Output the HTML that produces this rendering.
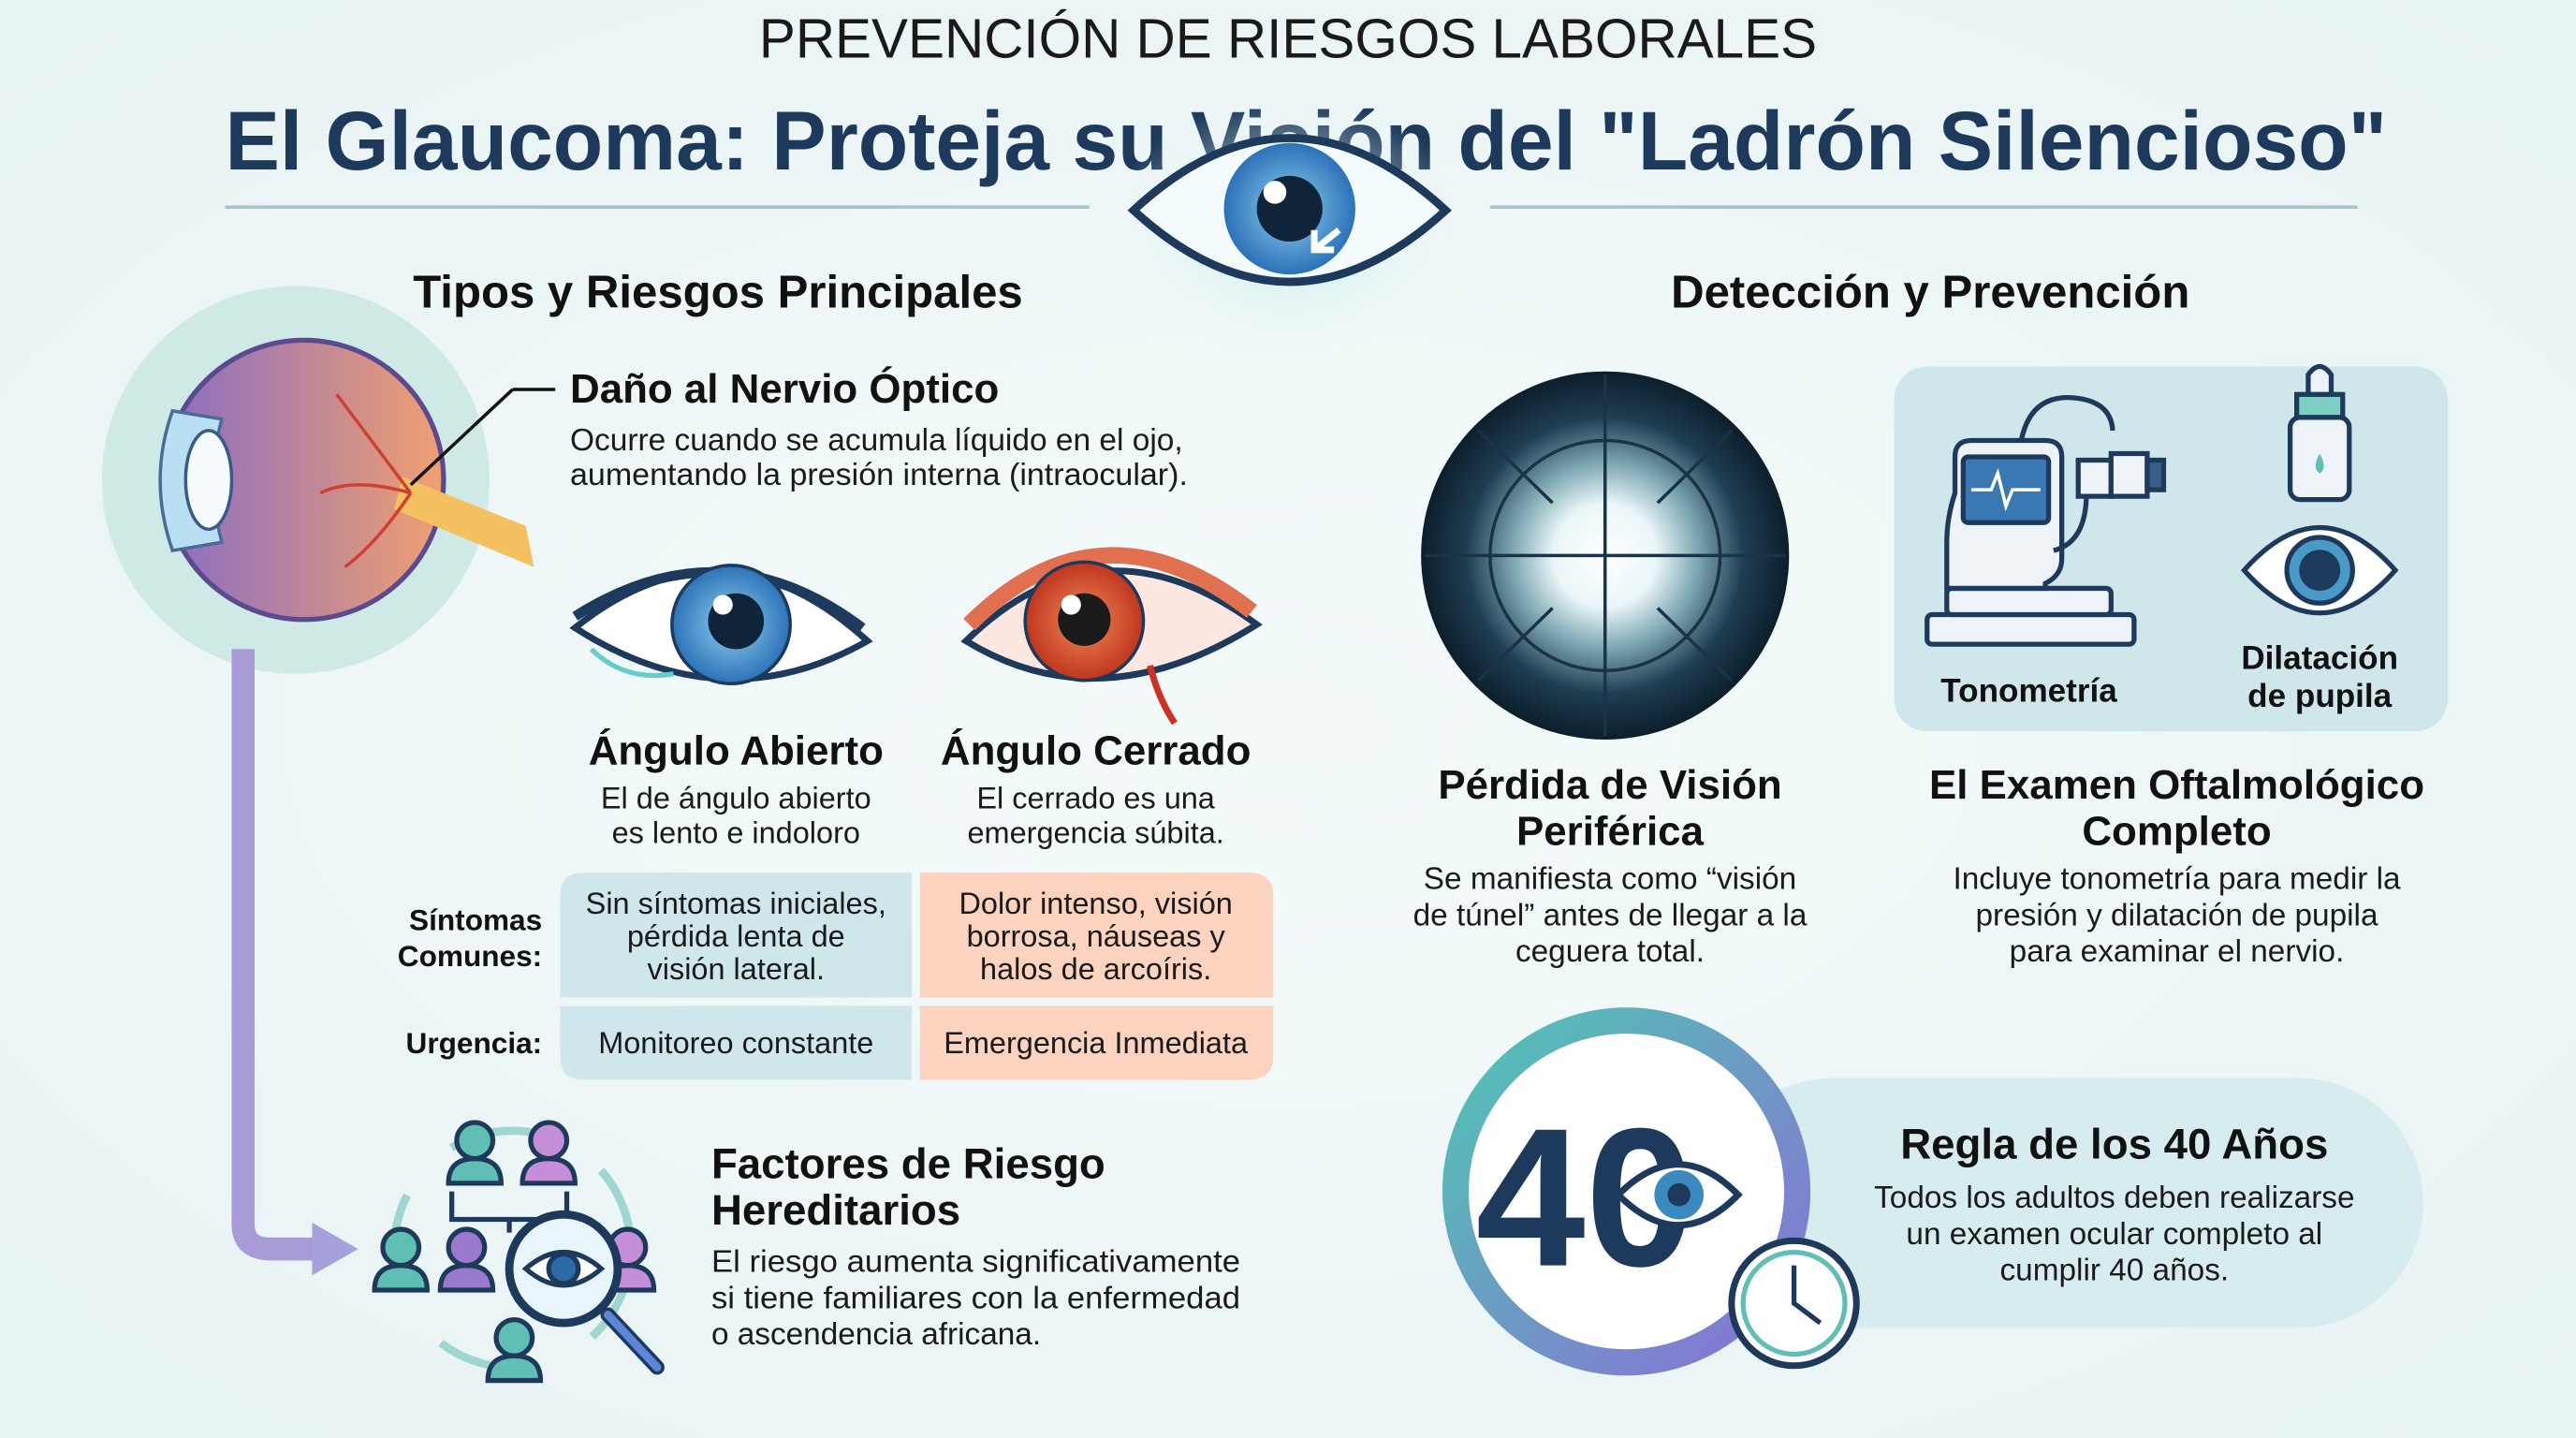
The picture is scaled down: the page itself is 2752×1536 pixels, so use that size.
<!DOCTYPE html>
<html><head><meta charset="utf-8"><style>
html,body{margin:0;padding:0;background:#eef7f7;}
svg{display:block;font-family:"Liberation Sans",sans-serif;}
.b{font-weight:bold;fill:#111;}
.t{fill:#1a1a1a;}
</style></head><body>
<svg width="2752" height="1536" viewBox="0 0 1568 875" preserveAspectRatio="none" xmlns="http://www.w3.org/2000/svg">
<defs>
<radialGradient id="bg" cx="0.5" cy="0.5" r="0.7"><stop offset="0" stop-color="#f4fafa"/><stop offset="1" stop-color="#e8f3f4"/></radialGradient>
<radialGradient id="tun" cx="0.5" cy="0.5" r="0.5"><stop offset="0" stop-color="#ffffff"/><stop offset="0.28" stop-color="#eaf6f8"/><stop offset="0.5" stop-color="#7fa8b4"/><stop offset="0.75" stop-color="#1f3e52"/><stop offset="1" stop-color="#0c1e2c"/></radialGradient>
<linearGradient id="ring" x1="0" y1="0" x2="1" y2="1"><stop offset="0" stop-color="#4fc6b3"/><stop offset="1" stop-color="#8a6fd6"/></linearGradient>
<radialGradient id="glow" cx="0.5" cy="0.5" r="0.5"><stop offset="0" stop-color="#bfeee8"/><stop offset="1" stop-color="#eef7f7" stop-opacity="0"/></radialGradient>
<radialGradient id="iris1" cx="0.5" cy="0.5" r="0.5"><stop offset="0" stop-color="#8fd0f0"/><stop offset="1" stop-color="#2c72b8"/></radialGradient>
<radialGradient id="iris2" cx="0.5" cy="0.5" r="0.5"><stop offset="0" stop-color="#f08a5a"/><stop offset="1" stop-color="#c0351c"/></radialGradient>
<linearGradient id="ball" x1="0" y1="0" x2="1" y2="0"><stop offset="0" stop-color="#8a6cc4"/><stop offset="1" stop-color="#f0a070"/></linearGradient>
</defs>
<rect width="1568" height="875" fill="url(#bg)"/>

<!-- Header -->
<text x="784" y="35" text-anchor="middle" font-size="34" fill="#1a1a1a" textLength="644" lengthAdjust="spacingAndGlyphs">PREVENCIÓN DE RIESGOS LABORALES</text>
<text x="795" y="103" text-anchor="middle" font-size="51" font-weight="bold" fill="#1d3a5c" textLength="1316" lengthAdjust="spacingAndGlyphs">El Glaucoma: Proteja su  Visión del "Ladrón Silencioso"</text>
<line x1="137" y1="126" x2="663" y2="126" stroke="#a9c4c8" stroke-width="2"/>
<line x1="907" y1="126" x2="1435" y2="126" stroke="#a9c4c8" stroke-width="2"/>
<ellipse cx="785" cy="140" rx="110" ry="80" fill="url(#glow)"/>
<path d="M690 128 Q785 40 880 128 Q785 215 690 128Z" fill="#f4fbfc" stroke="#1d3a5c" stroke-width="5"/>
<circle cx="785" cy="127" r="40" fill="url(#iris1)"/>
<circle cx="785" cy="127" r="20" fill="#0f2438"/>
<circle cx="776" cy="117" r="7" fill="#fff"/>
<path d="M815 140 L800 152 M800 140 L800 152 L812 152" stroke="#fff" stroke-width="4" fill="none"/>

<!-- Section titles -->
<text x="437" y="187" text-anchor="middle" font-size="28" class="b">Tipos y Riesgos Principales</text>
<text x="1175" y="187" text-anchor="middle" font-size="28" class="b">Detección y Prevención</text>

<!-- Anatomic eye -->
<circle cx="180" cy="292" r="118" fill="#cfe9e6"/>
<path d="M148 395 L148 745 Q148 760 165 760 L195 760" stroke="#a99ad8" stroke-width="14" fill="none"/>
<path d="M190 744 L218 760 L190 776Z" fill="#a6a0dc"/>
<circle cx="185" cy="292" r="85" fill="url(#ball)" stroke="#5a4a90" stroke-width="3"/>
<path d="M245 290 L320 320 L325 345 L240 310Z" fill="#f4c060"/>
<path d="M105 250 Q90 292 105 335 L135 330 Q125 292 135 255Z" fill="#b9dff2" stroke="#4a6a9a" stroke-width="2"/>
<ellipse cx="127" cy="292" rx="14" ry="30" fill="#f5fbff" stroke="#3a5a88" stroke-width="2"/>
<path d="M250 300 Q220 260 205 240 M250 300 Q215 290 195 300 M250 300 Q230 330 210 345" stroke="#d04030" stroke-width="2" fill="none"/>
<line x1="250" y1="295" x2="312" y2="237" stroke="#111" stroke-width="2"/>
<line x1="312" y1="237" x2="338" y2="237" stroke="#111" stroke-width="2"/>

<text x="347" y="245" font-size="25" class="b">Daño al Nervio Óptico</text>
<text x="347" y="274" font-size="19" class="t" textLength="373" lengthAdjust="spacingAndGlyphs">Ocurre cuando se acumula líquido en el ojo,</text>
<text x="347" y="295" font-size="19" class="t" textLength="376" lengthAdjust="spacingAndGlyphs">aumentando la presión interna (intraocular).</text>

<!-- Eye open angle -->
<path d="M350 382 Q440 310 528 390 Q440 440 350 382Z" fill="#fff" stroke="#1d3a5c" stroke-width="4"/>
<path d="M350 375 Q440 318 525 382" stroke="#1d3a5c" stroke-width="6" fill="none"/>
<circle cx="445" cy="380" r="36" fill="url(#iris1)" stroke="#1d3a5c" stroke-width="2"/>
<circle cx="448" cy="378" r="17" fill="#0f2438"/>
<circle cx="440" cy="368" r="6" fill="#fff"/>
<path d="M360 395 Q380 415 410 410" stroke="#6cc" stroke-width="3" fill="none"/>
<!-- Eye closed angle -->
<path d="M588 390 Q670 310 765 380 Q670 440 588 390Z" fill="#fce8e0" stroke="#1d3a5c" stroke-width="4"/>
<path d="M590 380 Q670 300 762 372" stroke="#e07050" stroke-width="10" fill="none"/>
<circle cx="660" cy="378" r="36" fill="url(#iris2)" stroke="#1d3a5c" stroke-width="2"/>
<circle cx="660" cy="377" r="16" fill="#1a1a1a"/>
<circle cx="652" cy="368" r="6" fill="#fff"/>
<path d="M700 405 Q705 425 715 440" stroke="#d03020" stroke-width="4" fill="none"/>

<text x="448" y="465" text-anchor="middle" font-size="25" class="b">Ángulo Abierto</text>
<text x="448" y="492" text-anchor="middle" font-size="18.5" class="t">El de ángulo abierto</text>
<text x="448" y="513" text-anchor="middle" font-size="18.5" class="t">es lento e indoloro</text>
<text x="667" y="465" text-anchor="middle" font-size="25" class="b">Ángulo Cerrado</text>
<text x="667" y="492" text-anchor="middle" font-size="18.5" class="t">El cerrado es una</text>
<text x="667" y="513" text-anchor="middle" font-size="18.5" class="t">emergencia súbita.</text>

<!-- Table -->
<text x="330" y="566" text-anchor="end" font-size="18" class="b">Síntomas</text>
<text x="330" y="588" text-anchor="end" font-size="18" class="b">Comunes:</text>
<text x="330" y="641" text-anchor="end" font-size="18" class="b">Urgencia:</text>
<path d="M355 531 H555 V607 H341 V545 Q341 531 355 531Z" fill="#cfe7ea"/>
<path d="M560 531 H760 Q775 531 775 545 V607 H560Z" fill="#fbd3bf"/>
<path d="M341 612 H555 V657 H355 Q341 657 341 643Z" fill="#cfe7ea"/>
<path d="M560 612 H775 V643 Q775 657 760 657 H560Z" fill="#fbd3bf"/>
<g font-size="18.5" class="t" text-anchor="middle">
<text x="448" y="556">Sin síntomas iniciales,</text>
<text x="448" y="576">pérdida lenta de</text>
<text x="448" y="596">visión lateral.</text>
<text x="667" y="556">Dolor intenso, visión</text>
<text x="667" y="576">borrosa, náuseas y</text>
<text x="667" y="596">halos de arcoíris.</text>
<text x="448" y="641">Monitoreo constante</text>
<text x="667" y="641">Emergencia Inmediata</text>
</g>

<!-- Family icon -->
<circle cx="312" cy="760" r="72" fill="none" stroke="#9fd6cf" stroke-width="5" stroke-dasharray="60 40"/>
<g stroke="#1d3a5c" stroke-width="3">
<path d="M310 750 V742 H275 V725 M310 742 H345 V725" fill="none"/>
<circle cx="289" cy="694" r="11" fill="#5fbfb4"/><path d="M273 720 Q273 705 289 705 Q305 705 305 720Z" fill="#5fbfb4"/>
<circle cx="334" cy="694" r="11" fill="#c48ed8"/><path d="M318 720 Q318 705 334 705 Q350 705 350 720Z" fill="#c48ed8"/>
<circle cx="244" cy="759" r="11" fill="#5fbfb4"/><path d="M228 785 Q228 770 244 770 Q260 770 260 785Z" fill="#5fbfb4"/>
<circle cx="284" cy="759" r="11" fill="#9a78cc"/><path d="M268 785 Q268 770 284 770 Q300 770 300 785Z" fill="#9a78cc"/>
<circle cx="382" cy="759" r="11" fill="#c48ed8"/><path d="M366 785 Q366 770 382 770 Q398 770 398 785Z" fill="#c48ed8"/>
<circle cx="313" cy="814" r="11" fill="#5fbfb4"/><path d="M297 840 Q297 825 313 825 Q329 825 329 840Z" fill="#5fbfb4"/>
<line x1="370" y1="800" x2="400" y2="832" stroke-width="9" stroke-linecap="round"/>
<line x1="370" y1="800" x2="400" y2="832" stroke="#5c86d8" stroke-width="5" stroke-linecap="round"/>
<circle cx="343" cy="772" r="33" fill="#e8f5fa" stroke-width="5"/>
<path d="M320 772 Q343 752 366 772 Q343 792 320 772Z" fill="#fff"/>
<circle cx="343" cy="772" r="9" fill="#2c6aa8"/>
</g>
<text x="433" y="717" font-size="26" class="b">Factores de Riesgo</text>
<text x="433" y="745" font-size="26" class="b">Hereditarios</text>
<text x="433" y="774" font-size="19" class="t" textLength="322" lengthAdjust="spacingAndGlyphs">El riesgo aumenta significativamente</text>
<text x="433" y="796" font-size="19" class="t" textLength="322" lengthAdjust="spacingAndGlyphs">si tiene familiares con la enfermedad</text>
<text x="433" y="818" font-size="19" class="t">o ascendencia africana.</text>

<!-- Tunnel vision -->
<circle cx="977" cy="338" r="112" fill="url(#tun)"/>
<g stroke="#1a3346" stroke-width="2" fill="none">
<circle cx="977" cy="338" r="70"/>
<line x1="977" y1="228" x2="977" y2="448"/><line x1="867" y1="338" x2="1087" y2="338"/>
<line x1="900" y1="262" x2="945" y2="306"/><line x1="1054" y1="262" x2="1009" y2="306"/>
<line x1="900" y1="414" x2="945" y2="370"/><line x1="1054" y1="414" x2="1009" y2="370"/>
</g>
<text x="980" y="486" text-anchor="middle" font-size="25" class="b">Pérdida de Visión</text>
<text x="980" y="514" text-anchor="middle" font-size="25" class="b">Periférica</text>
<text x="980" y="541" text-anchor="middle" font-size="19" class="t">Se manifiesta como “visión</text>
<text x="980" y="563" text-anchor="middle" font-size="19" class="t">de túnel” antes de llegar a la</text>
<text x="980" y="585" text-anchor="middle" font-size="19" class="t">ceguera total.</text>

<!-- Panel -->
<rect x="1153" y="223" width="337" height="222" rx="20" fill="#cfe6ea"/>
<g stroke="#1d3a5c" stroke-width="3">
<path d="M1230 270 Q1235 240 1262 242 Q1285 244 1286 262" fill="none"/>
<rect x="1173" y="374" width="126" height="18" rx="3" fill="#eef3f8"/>
<rect x="1185" y="358" width="100" height="16" rx="3" fill="#eef3f8"/>
<path d="M1185 358 V330 Q1185 315 1190 300 V278 Q1190 268 1200 268 H1245 Q1255 268 1255 278 V340 Q1255 350 1245 355 V358Z" fill="#eef3f8"/>
<rect x="1195" y="278" width="52" height="40" rx="3" fill="#3a78b4"/>
<path d="M1200 298 H1212 L1216 288 L1221 308 L1225 298 H1242" stroke="#fff" stroke-width="2" fill="none"/>
<path d="M1250 335 Q1270 330 1270 300" fill="none"/>
<rect x="1265" y="280" width="20" height="22" fill="#eef3f8"/>
<rect x="1285" y="276" width="22" height="26" fill="#eef3f8"/>
<rect x="1307" y="280" width="10" height="18" fill="#3a6088"/>
<rect x="1398" y="240" width="28" height="14" fill="#7ecfc4"/>
<path d="M1405 240 V228 Q1412 218 1419 228 V240Z" fill="#eef3f8"/>
<rect x="1394" y="254" width="36" height="50" rx="6" fill="#eef3f8"/>
<path d="M1366 347 Q1412 295 1458 347 Q1412 399 1366 347Z" fill="#fff"/>
<circle cx="1412" cy="347" r="20" fill="#4a9ac8"/>
<circle cx="1412" cy="347" r="11" fill="#1d3a5c"/>
</g>
<path d="M1412 276 Q1407 285 1412 288 Q1417 285 1412 276Z" fill="#5fbfb4"/>
<text x="1235" y="427" text-anchor="middle" font-size="20" class="b">Tonometría</text>
<text x="1412" y="407" text-anchor="middle" font-size="20" class="b">Dilatación</text>
<text x="1412" y="430" text-anchor="middle" font-size="20" class="b">de pupila</text>

<text x="1325" y="486" text-anchor="middle" font-size="25" class="b">El Examen Oftalmológico</text>
<text x="1325" y="514" text-anchor="middle" font-size="25" class="b">Completo</text>
<text x="1325" y="541" text-anchor="middle" font-size="19" class="t">Incluye tonometría para medir la</text>
<text x="1325" y="563" text-anchor="middle" font-size="19" class="t">presión y dilatación de pupila</text>
<text x="1325" y="585" text-anchor="middle" font-size="19" class="t">para examinar el nervio.</text>

<!-- 40 rule -->
<rect x="1040" y="656" width="435" height="152" rx="76" fill="#d6ecee"/>
<circle cx="990" cy="725" r="104" fill="#fff" stroke="url(#ring)" stroke-width="16"/>
<text x="965" y="770" text-anchor="middle" font-size="120" font-weight="bold" fill="#1d3a5c">40</text>
<path d="M985 727 Q1022 690 1058 727 Q1022 764 985 727Z" fill="#fff" stroke="#1d3a5c" stroke-width="4"/>
<circle cx="1022" cy="727" r="15" fill="#3a8ac0"/><circle cx="1022" cy="727" r="7" fill="#1d3a5c"/>
<circle cx="1092" cy="793" r="38" fill="#fff" stroke="#1d3a5c" stroke-width="4"/>
<circle cx="1092" cy="793" r="31" fill="none" stroke="#5fbfb4" stroke-width="3"/>
<path d="M1092 770 V793 L1108 805" stroke="#1d3a5c" stroke-width="3" fill="none"/>
<text x="1287" y="705" text-anchor="middle" font-size="26" class="b">Regla de los 40 Años</text>
<text x="1287" y="735" text-anchor="middle" font-size="19" class="t">Todos los adultos deben realizarse</text>
<text x="1287" y="757" text-anchor="middle" font-size="19" class="t">un examen ocular completo al</text>
<text x="1287" y="779" text-anchor="middle" font-size="19" class="t">cumplir 40 años.</text>
</svg>
</body></html>
